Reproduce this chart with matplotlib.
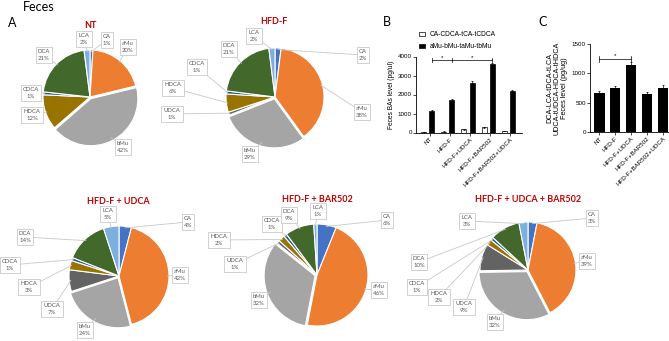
import numpy as np
import matplotlib
matplotlib.use("Agg")
import matplotlib.pyplot as plt

# ---- data ----
componentes = ['CA', 'aMu', 'bMu', 'UDCA', 'HDCA', 'CDCA', 'DCA', 'LCA']
colores = ['#4472C4', '#ED7D31', '#A5A5A5', '#636363', '#997300', '#255E91', '#43682B', '#7CAFDD']

pct_NT = [1, 20, 42, 0, 12, 1, 21, 2]
pct_HFD = [2, 38, 29, 1, 6, 1, 21, 2]
pct_HFD_UDCA = [4, 42, 24, 7, 3, 1, 14, 5]
pct_HFD_BAR = [6, 46, 32, 1, 2, 1, 9, 1]
pct_HFD_UDCA_BAR = [3, 39, 32, 9, 2, 1, 10, 3]

grupos = ['NT', 'HFD-F', 'HFD-F+UDCA', 'HFD-F+BAR502', 'HFD-F+BAR502+UDCA']
b_blancas = [15, 50, 170, 270, 90]
b_blancas_err = [5, 8, 20, 25, 12]
b_negras = [1120, 1730, 2630, 3620, 2200]
b_negras_err = [40, 50, 70, 60, 50]
c_barras = [670, 745, 1145, 650, 755]
c_err = [35, 35, 45, 35, 40]

W, H = 669, 341

# layout of pies (pixel coords) and label box positions
pies = [
    ('NT', pct_NT, (90, 97), 47, (90, 26), {
        'LCA': (84, 39), 'CA': (107, 40), 'aMu': (128, 47), 'DCA': (44, 55),
        'CDCA': (31, 93), 'HDCA': (32, 115), 'bMu': (123, 147)}),
    ('HFD-F', pct_HFD, (275, 97), 49, (274, 22), {
        'LCA': (254, 36), 'CA': (363, 55), 'aMu': (362, 112), 'bMu': (250, 154),
        'DCA': (229, 49), 'CDCA': (197, 67), 'HDCA': (173, 88), 'UDCA': (172, 114)}),
    ('HFD-F + UDCA', pct_HFD_UDCA, (119, 276), 50, (118, 202), {
        'LCA': (108, 214), 'CA': (188, 222), 'aMu': (180, 275), 'bMu': (85, 330),
        'DCA': (25, 237), 'CDCA': (10, 265), 'HDCA': (29, 287), 'UDCA': (52, 309)}),
    ('HFD-F + BAR502', pct_HFD_BAR, (317, 275), 51, (317, 199), {
        'LCA': (318, 211), 'CA': (387, 220), 'aMu': (379, 290), 'bMu': (259, 300),
        'DCA': (289, 215), 'CDCA': (272, 224), 'HDCA': (219, 240), 'UDCA': (235, 264)}),
    ('HFD-F + UDCA + BAR502', pct_HFD_UDCA_BAR, (528, 270), 48, (528, 199), {
        'LCA': (467, 221), 'CA': (592, 218), 'aMu': (587, 261), 'bMu': (495, 322),
        'DCA': (419, 262), 'CDCA': (417, 287), 'HDCA': (439, 297), 'UDCA': (464, 307)}),
]

fig = plt.figure(figsize=(W / 100, H / 100), dpi=100)
fig.patch.set_facecolor('white')


def caja(x0, y0, w, h):
    # pixel box (top-left origin) -> figure fraction
    return [x0 / W, 1 - (y0 + h) / H, w / W, h / H]


ov = fig.add_axes([0, 0, 1, 1], zorder=5)
ov.set_xlim(0, W)
ov.set_ylim(H, 0)
ov.axis('off')

fuente_pie = 'Lato'

for titulo, vals, (cx, cy), r, tpos, etiquetas in pies:
    ax = fig.add_axes(caja(cx - r, cy - r, 2 * r, 2 * r))
    explode = [0.04 if c == 'bMu' else 0 for c in componentes]
    wedges, _ = ax.pie(vals, colors=colores, startangle=90, counterclock=False,
                       explode=explode, radius=1,
                       wedgeprops=dict(edgecolor='white', linewidth=0.8))
    for w_ in wedges:
        w_.set_clip_on(False)
    ax.set_xlim(-1, 1)
    ax.set_ylim(-1, 1)
    ov.text(tpos[0], tpos[1], titulo, color='#C00000', fontsize=6.5,
            fontweight='bold', family=fuente_pie, ha='center', va='center')
    total = float(sum(vals))
    acum = 0
    for nombre, v in zip(componentes, vals):
        if v > 0 and nombre in etiquetas:
            th = np.deg2rad(90 - 360 * (acum + v / 2) / total)
            px = cx + 0.97 * r * np.cos(th)
            py = cy - 0.97 * r * np.sin(th)
            lx, ly = etiquetas[nombre]
            ov.plot([lx, px], [ly, py], color='#C8C8C8', lw=0.6, zorder=1)
            ov.text(lx, ly, f'{nombre}\n{v}%', fontsize=4.3, color='#595959',
                    family=fuente_pie, ha='center', va='center', linespacing=1.3,
                    zorder=3,
                    bbox=dict(boxstyle='square,pad=0.35', fc='white',
                              ec='#BFBFBF', lw=0.5))
        acum += v

ov.text(23, 7, 'Feces', fontsize=9, family=fuente_pie, ha='left', va='center')
ov.text(8, 23, 'A', fontsize=9, family=fuente_pie, ha='left', va='center')
ov.text(383, 22, 'B', fontsize=9, family=fuente_pie, ha='left', va='center')
ov.text(538, 22, 'C', fontsize=9, family=fuente_pie, ha='left', va='center')

# ---- panel B ----
fb = 'Liberation Sans'
x = np.arange(len(grupos))
axb = fig.add_axes(caja(416, 56.5, 106, 76))
axb.bar(x - 0.2, b_blancas, width=0.25, color='white', edgecolor='black',
        linewidth=0.5, yerr=b_blancas_err, error_kw=dict(lw=0.5, capsize=1, capthick=0.5),
        label='CA-CDCA-tCA-tCDCA')
axb.bar(x + 0.2, b_negras, width=0.25, color='black', edgecolor='black',
        linewidth=0.5, yerr=b_negras_err, error_kw=dict(lw=0.5, capsize=1, capthick=0.5),
        label='aMu-bMu-taMu-tbMu')
axb.set_xlim(-0.6, 4.7)
axb.set_ylim(0, 4000)
axb.set_yticks([0, 1000, 2000, 3000, 4000])
axb.set_xticks(x + 0.1)
axb.set_xticklabels(grupos, rotation=45, ha='right', rotation_mode='anchor')
axb.set_ylabel('Feces BAs level (pg/ul)', fontsize=4.8, family=fb, labelpad=2)
axb.legend(loc='lower left', bbox_to_anchor=(0.0, 1.047), frameon=False,
           prop={'family': fb, 'size': 4.8}, handlelength=1.0,
           handleheight=0.7, labelspacing=0.75, borderaxespad=0, handletextpad=0.6)
# significance bracket
ys = 3800
axb.plot([0.2, 3.2], [ys, ys], color='black', lw=0.5, clip_on=False)
for xt in [0.2, 1.2, 3.2]:
    axb.plot([xt, xt], [ys - 100, ys + 100], color='black', lw=0.5, clip_on=False)
axb.text(0.7, ys + 20, '*', fontsize=4.5, ha='center', va='bottom', family=fb)
axb.text(2.2, ys + 20, '*', fontsize=4.5, ha='center', va='bottom', family=fb)

# ---- panel C ----
axc = fig.add_axes(caja(590, 44, 79, 88))
axc.bar(x, c_barras, width=0.65, color='black', yerr=c_err,
        error_kw=dict(lw=0.5, capsize=1, capthick=0.5))
axc.set_xlim(-0.6, 4.4)
axc.set_ylim(0, 1500)
axc.set_yticks([0, 500, 1000, 1500])
axc.set_xticks(x)
axc.set_xticklabels(grupos, rotation=45, ha='right', rotation_mode='anchor')
axc.set_ylabel('DCA-LCA-tDCA-tLCA\nUDCA-tUDCA-HDCA-tHDCA\nFeces level (pg/ug)',
               fontsize=5.2, family=fb, labelpad=3, linespacing=1.0)
yc = 1250
axc.plot([0, 2], [yc, yc], color='black', lw=0.5, clip_on=False)
for xt in [0, 2]:
    axc.plot([xt, xt], [yc - 50, yc + 50], color='black', lw=0.5, clip_on=False)
axc.text(1, yc + 10, '*', fontsize=4.5, ha='center', va='bottom', family=fb)

for a in (axb, axc):
    for s in ('top', 'right'):
        a.spines[s].set_visible(False)
    for s in ('left', 'bottom'):
        a.spines[s].set_linewidth(0.6)
    a.tick_params(length=2, width=0.5, pad=1, labelsize=4.5)
    for t in a.get_xticklabels() + a.get_yticklabels():
        t.set_family(fb)

fig.savefig('out.png', dpi=100, facecolor='white')
